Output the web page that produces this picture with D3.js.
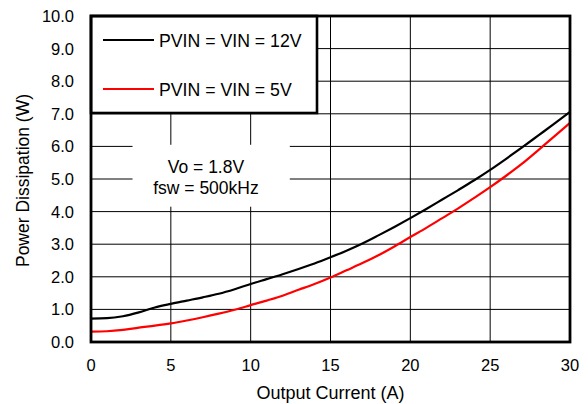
<!DOCTYPE html>
<html>
<head>
<meta charset="utf-8">
<script src="https://cdn.jsdelivr.net/npm/d3@7"></script>
<style>
  html, body { margin: 0; padding: 0; background: #fff; }
  text { font-family: "Liberation Sans", Arial, Helvetica, sans-serif; fill: #000; }
</style>
</head>
<body>
<div id="chart"></div>
<script>
// Output current (A) vs power dissipation (W)
const current12 = [0, 1, 2, 3, 4, 5, 6, 7, 8, 9, 10, 11, 12, 13, 14, 15, 16, 17, 18, 19, 20, 21, 22, 23, 24, 25, 26, 27, 28, 29, 30];
const power12 = [0.72, 0.73, 0.79, 0.91, 1.06, 1.17, 1.27, 1.37, 1.48, 1.62, 1.78, 1.93, 2.08, 2.24, 2.41, 2.6, 2.8, 3.02, 3.27, 3.53, 3.8, 4.08, 4.37, 4.66, 4.96, 5.28, 5.62, 5.97, 6.33, 6.69, 7.06];

const current5 = [0, 1, 2, 3, 4, 5, 6, 7, 8, 9, 10, 11, 12, 13, 14, 15, 16, 17, 18, 19, 20, 21, 22, 23, 24, 25, 26, 27, 28, 29, 30];
const power5 = [0.32, 0.33, 0.37, 0.44, 0.5, 0.57, 0.66, 0.76, 0.87, 0.99, 1.13, 1.27, 1.42, 1.6, 1.78, 1.98, 2.2, 2.42, 2.66, 2.93, 3.22, 3.5, 3.8, 4.1, 4.42, 4.75, 5.1, 5.47, 5.88, 6.3, 6.72];

const seriesNames = ['PVIN = VIN = 12V', 'PVIN = VIN = 5V'];
const seriesColors = ['#000000', '#ff0000'];
const xTicks = [0, 5, 10, 15, 20, 25, 30];
const yTicks = [0, 1, 2, 3, 4, 5, 6, 7, 8, 9, 10];
const noteLines = ['Vo = 1.8V', 'fsw = 500kHz'];

const W = 588, H = 404;
const margin = { top: 16, right: 18, bottom: 62, left: 91 };
const width = W - margin.left - margin.right;
const height = H - margin.top - margin.bottom;

const svg = d3.select('#chart').append('svg')
  .attr('width', W).attr('height', H);

const g = svg.append('g')
  .attr('transform', `translate(${margin.left},${margin.top})`);

const x = d3.scaleLinear().domain([0, 30]).range([0, width]);
const y = d3.scaleLinear().domain([0, 10]).range([height, 0]);

// grid
g.selectAll('.vgrid').data(xTicks.slice(1, -1))
  .join('line')
  .attr('x1', d => x(d)).attr('x2', d => x(d))
  .attr('y1', 0).attr('y2', height)
  .attr('stroke', '#000').attr('stroke-width', 1);

g.selectAll('.hgrid').data(yTicks.slice(1, -1))
  .join('line')
  .attr('x1', 0).attr('x2', width)
  .attr('y1', d => y(d)).attr('y2', d => y(d))
  .attr('stroke', '#000').attr('stroke-width', 1);

// note box (white patch over the grid)
g.append('rect')
  .attr('x', x(2.6)).attr('y', y(6.05))
  .attr('width', x(12.45) - x(2.6)).attr('height', y(4.15) - y(6.05))
  .attr('fill', '#fff');

g.selectAll('.note').data(noteLines)
  .join('text')
  .attr('x', x(7.2))
  .attr('y', (d, i) => 157 + i * 21)
  .attr('text-anchor', 'middle')
  .attr('font-size', '17.5px')
  .text(d => d);

// lines
const line = d3.line()
  .x(d => x(d[0])).y(d => y(d[1]))
  .curve(d3.curveMonotoneX);

const series = [
  d3.zip(current12, power12),
  d3.zip(current5, power5)
];

g.selectAll('.series').data(series)
  .join('path')
  .attr('d', line)
  .attr('fill', 'none')
  .attr('stroke', (d, i) => seriesColors[i])
  .attr('stroke-width', 2.2)
  .attr('stroke-linejoin', 'round');

// legend
const legendW = 226, legendH = 97;
g.append('rect')
  .attr('x', 0).attr('y', 0)
  .attr('width', legendW).attr('height', legendH)
  .attr('fill', '#fff')
  .attr('stroke', '#000').attr('stroke-width', 2.6);

const leg = g.selectAll('.leg').data(seriesNames)
  .join('g')
  .attr('transform', (d, i) => `translate(0, ${24 + i * 49})`);

leg.append('line')
  .attr('x1', 12).attr('x2', 63)
  .attr('stroke', (d, i) => seriesColors[i])
  .attr('stroke-width', 2.2);

leg.append('text')
  .attr('x', 68).attr('y', 7)
  .attr('font-size', '17.7px')
  .text(d => d);

// frame
g.append('rect')
  .attr('x', 0).attr('y', 0)
  .attr('width', width).attr('height', height)
  .attr('fill', 'none')
  .attr('stroke', '#000').attr('stroke-width', 2.8);

// tick labels
g.selectAll('.xtick').data(xTicks)
  .join('text')
  .attr('x', d => x(d))
  .attr('y', height + 29)
  .attr('text-anchor', 'middle')
  .attr('font-size', '16.5px')
  .text(d => d);

g.selectAll('.ytick').data(yTicks)
  .join('text')
  .attr('x', -17)
  .attr('y', d => y(d) + 6)
  .attr('text-anchor', 'end')
  .attr('font-size', '16.5px')
  .text(d => d.toFixed(1));

// axis titles
g.append('text')
  .attr('x', width / 2)
  .attr('y', height + 57)
  .attr('text-anchor', 'middle')
  .attr('font-size', '18px')
  .text('Output Current (A)');

g.append('text')
  .attr('transform', `translate(${-62},${164.5}) rotate(-90)`)
  .attr('text-anchor', 'middle')
  .attr('font-size', '17.5px')
  .text('Power Dissipation (W)');
</script>
</body>
</html>
